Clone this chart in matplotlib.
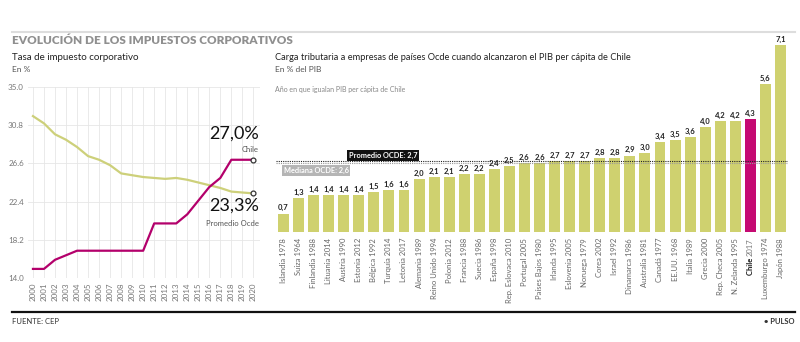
import matplotlib
matplotlib.use("Agg")
import matplotlib.pyplot as plt
from matplotlib.transforms import offset_copy
import numpy as np

plt.rcParams['font.family'] = ['Lato', 'DejaVu Sans']

# --- datos: tasa de impuesto corporativo (%) ---
anios = list(range(2000, 2021))
chile = [15.0, 15.0, 16.0, 16.5, 17.0, 17.0, 17.0, 17.0, 17.0, 17.0, 17.0,
         20.0, 20.0, 20.0, 21.0, 22.5, 24.0, 25.0, 27.0, 27.0, 27.0]
ocde = [31.8, 31.0, 29.8, 29.2, 28.4, 27.4, 27.0, 26.4, 25.5, 25.3, 25.1,
        25.0, 24.9, 25.0, 24.8, 24.5, 24.2, 23.9, 23.5, 23.4, 23.3]
yticks_izq = [14.0, 18.2, 22.4, 26.6, 30.8, 35.0]

# --- datos: carga tributaria a empresas (% del PIB) ---
paises = ["Islandia", "Suiza", "Finlandia", "Lituania", "Austria", "Estonia",
          "Bélgica", "Turquía", "Letonia", "Alemania", "Reino Unido", "Polonia",
          "Francia", "Suecia", "España", "Rep. Eslovaca", "Portugal",
          "Países Bajos", "Irlanda", "Eslovenia", "Noruega", "Corea", "Israel",
          "Dinamarca", "Australia", "Canadá", "EE.UU.", "Italia", "Grecia",
          "Rep. Checa", "N. Zelanda", "Chile", "Luxemburgo", "Japón"]
anio_pib = [1978, 1964, 1988, 2014, 1990, 2012, 1992, 2014, 2017, 1989, 1994,
            2012, 1988, 1986, 1998, 2010, 2005, 1980, 1995, 2005, 1979, 2002,
            1992, 1986, 1981, 1977, 1968, 1989, 2000, 2005, 1995, 2017, 1974,
            1988]
carga = [0.7, 1.3, 1.4, 1.4, 1.4, 1.4, 1.5, 1.6, 1.6, 2.0, 2.1, 2.1, 2.2, 2.2,
         2.4, 2.5, 2.6, 2.6, 2.7, 2.7, 2.7, 2.8, 2.8, 2.9, 3.0, 3.4, 3.5, 3.6,
         4.0, 4.2, 4.2, 4.3, 5.6, 7.1]
promedio = 2.7
mediana = 2.6

VERDE = "#cfd16f"
MAGENTA = "#c50a72"
LINEA_OCDE = "#cdd07a"
LINEA_CHILE = "#b3006b"

W, H = 800, 342
fig = plt.figure(figsize=(8, 3.42), dpi=100)


def fx(px):
    return px / W


def fy(py):
    return 1 - py / H


# cabecera y pie
fig.add_artist(plt.Line2D([fx(12), fx(795)], [fy(32), fy(32)], color="#dddddd", lw=1.5))
fig.text(fx(12), fy(41), "EVOLUCIÓN DE LOS IMPUESTOS CORPORATIVOS", fontsize=8.5,
         fontweight="heavy", color="#8f8f8f", va="center")
fig.add_artist(plt.Line2D([fx(12), fx(795)], [fy(312), fy(312)], color="#111111", lw=1.6))
fig.text(fx(12), fy(322), "FUENTE: CEP", fontsize=5.5, color="#333333", va="center")
fig.text(fx(795), fy(322), "• PULSO", fontsize=5.5, color="#333333", va="center",
         ha="right", fontweight="bold")

# ---------------- grafico de lineas ----------------
fig.text(fx(12), fy(58), "Tasa de impuesto corporativo", fontsize=7, color="#222222", va="center")
fig.text(fx(12), fy(69), "En %", fontsize=6, color="#555555", va="center")

ax1 = fig.add_axes([fx(28), fy(278), fx(260 - 28), fy(87) - fy(278)])
ax1.set_xlim(1999.55, 2020.6)
ax1.set_ylim(14, 35)
ax1.set_yticks(yticks_izq)
ax1.set_yticklabels([f"{v:.1f}" for v in yticks_izq])
ax1.set_xticks(anios)
ax1.set_xticklabels([str(a) for a in anios], rotation=90)
ax1.tick_params(axis="both", length=0, labelsize=5.8, labelcolor="#777777", pad=3)
for s in ax1.spines.values():
    s.set_visible(False)
ax1.grid(True, color="#e6e6e6", lw=0.6)
ax1.set_axisbelow(True)

ax1.plot(anios, ocde, color=LINEA_OCDE, lw=1.6, zorder=3)
ax1.plot(anios, chile, color=LINEA_CHILE, lw=1.6, zorder=3)
ax1.plot(anios[-1], chile[-1], "o", ms=3.5, mfc="white", mec="#333333", mew=0.9, zorder=4)
ax1.plot(anios[-1], ocde[-1], "o", ms=3.5, mfc="white", mec="#333333", mew=0.9, zorder=4)

ax1.annotate(f"{chile[-1]:.1f}%".replace(".", ","), (anios[-1], chile[-1]),
             xytext=(4, 13), textcoords="offset points", ha="right", va="bottom",
             fontsize=13, color="#111111")
ax1.annotate("Chile", (anios[-1], chile[-1]), xytext=(4, 5), textcoords="offset points",
             ha="right", va="bottom", fontsize=5.5, color="#555555")
ax1.annotate(f"{ocde[-1]:.1f}%".replace(".", ","), (anios[-1], ocde[-1]),
             xytext=(4, -3), textcoords="offset points", ha="right", va="top",
             fontsize=13, color="#111111")
ax1.annotate("Promedio Ocde", (anios[-1], ocde[-1]), xytext=(4, -19),
             textcoords="offset points", ha="right", va="top", fontsize=5.5, color="#555555")

# ---------------- grafico de barras ----------------
fig.text(fx(275), fy(58),
         "Carga tributaria a empresas de países Ocde cuando alcanzaron el PIB per cápita de Chile",
         fontsize=6.7, color="#222222", va="center")
fig.text(fx(275), fy(69), "En % del PIB", fontsize=6, color="#555555", va="center")
fig.text(fx(275), fy(89), "Año en que igualan PIB per cápita de Chile", fontsize=5,
         color="#888888", va="center")

ax2 = fig.add_axes([fx(276), fy(232), fx(788 - 276), fy(37) - fy(232)])
x = np.arange(len(paises))
colores = [MAGENTA if p == "Chile" else VERDE for p in paises]
ax2.bar(x, carga, width=0.73, color=colores, zorder=2)
ax2.set_xlim(-0.5, len(paises) - 0.5)
ax2.set_ylim(0, 7.4)
ax2.axis("off")

for xi, v in zip(x, carga):
    ax2.annotate(f"{v:.1f}".replace(".", ","), (xi, v), xytext=(0, 1.5),
                 textcoords="offset points", ha="center", va="bottom",
                 fontsize=5.5, fontweight="bold", color="#222222", zorder=4)

ax2.axhline(promedio, color="#222222", lw=0.8, ls=(0, (1, 1)), zorder=3)
ax2.axhline(mediana, color="#999999", lw=0.8, ls=(0, (1, 1)), zorder=3)
ax2.annotate("Promedio OCDE: 2,7", (4.35, promedio), xytext=(0, 1.5),
             textcoords="offset points", ha="left", va="bottom", fontsize=5.3,
             fontweight="bold", color="white", zorder=5,
             bbox=dict(boxstyle="square,pad=0.25", fc="#111111", ec="none"))
ax2.annotate("Mediana OCDE: 2,6", (0.0, mediana), xytext=(0, -2.5),
             textcoords="offset points", ha="left", va="top", fontsize=5.3,
             fontweight="bold", color="white", zorder=5,
             bbox=dict(boxstyle="square,pad=0.25", fc="#b5b5b5", ec="none"))

# etiquetas verticales de paises
trans = ax2.get_xaxis_transform()
y_lab = -(238 - 232) / (232 - 37)
fig.canvas.draw()
for xi, p, a in zip(x, paises, anio_pib):
    if p == "Chile":
        t = ax2.text(xi, y_lab, str(a), transform=trans, rotation=90, ha="center",
                     va="top", fontsize=5.5, color="#777777")
        fig.canvas.draw()
        hgt = t.get_window_extent().height * 72 / fig.dpi
        ax2.text(xi, y_lab, p + " ", rotation=90, ha="center", va="top", fontsize=5.5,
                 fontweight="bold", color="#111111",
                 transform=offset_copy(trans, fig=fig, y=-hgt, units="points"))
    else:
        ax2.text(xi, y_lab, f"{p} {a}", transform=trans, rotation=90, ha="center",
                 va="top", fontsize=5.5, color="#666666")

fig.savefig("out.png", dpi=100)
